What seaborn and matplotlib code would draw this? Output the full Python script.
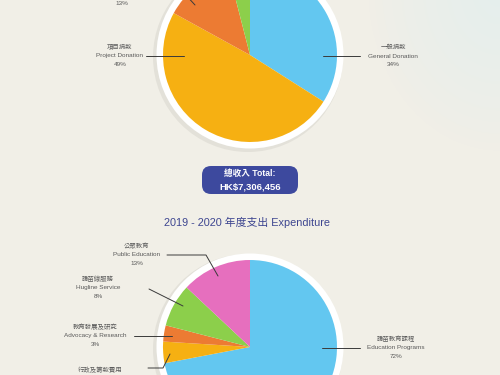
import numpy as np
import matplotlib
matplotlib.use("Agg")
import matplotlib.pyplot as plt
from matplotlib.patches import Circle, FancyBboxPatch
import seaborn as sns

# ---------------- data ----------------
income_labels_zh = ["一般捐款", "項目捐款", "籌款活動", "其他收入"]
income_labels_en = ["General Donation", "Project Donation", "Fundraising Events", "Others"]
income_values = [34, 49, 13, 4]

expense_labels_zh = ["護苗教育課程", "行政及籌款費用", "教育發展及研究", "護苗線服務", "公眾教育"]
expense_labels_en = ["Education Programs", "Administration & Fundraising", "Advocacy & Research",
                     "Hugline Service", "Public Education"]
expense_values = [72, 4, 3, 8, 13]

total_text = ["總收入 Total:", "HK$7,306,456"]
title_text = "2019 - 2020 年度支出 Expenditure"

# ---------------- style ----------------
sns.set_style("white")
plt.rcParams['font.family'] = ['Liberation Sans', 'Noto Sans CJK TC', 'DejaVu Sans']

pal = sns.color_palette(["#63c7f0", "#f6b012", "#ec7b33", "#8ccf4b", "#e66fbe"])
blue, yellow, orange, green, pink = pal

W, H = 500, 375
fig = plt.figure(figsize=(5, 3.75), dpi=100)
ax = fig.add_axes([0, 0, 1, 1])
fig.patch.set_facecolor("#f1efe7")
ax.set_facecolor("#f1efe7")

def Y(y):
    return H - y

# soft watercolor wash top right
gx, gy = np.meshgrid(np.linspace(0, 1, 200), np.linspace(0, 1, 150))
d = np.sqrt(((gx - 1.0) / 0.6) ** 2 + ((gy - 1.0) / 0.95) ** 2)
alpha = np.clip(1.0 - d, 0, 1) ** 0.8 * 0.45
wash = np.zeros((150, 200, 4))
wash[..., 0] = 0.84
wash[..., 1] = 0.93
wash[..., 2] = 0.96
wash[..., 3] = alpha
ax.imshow(wash, extent=(280, 500, Y(160), Y(-10)), origin="lower", zorder=0, aspect="auto")

line_kw = dict(color="#3a3a3a", lw=0.7, zorder=5)
txt_kw = dict(ha="center", va="center", color="#5a5a5a", fontsize=4.6, zorder=6)


def ring(cx, cy, r):
    ax.add_patch(Circle((cx - 2, Y(cy) - 2), r + 8, color="#c4c1b9", alpha=0.3, lw=0, zorder=1))
    ax.add_patch(Circle((cx, Y(cy)), r + 6.5, color="white", lw=0, zorder=2))


def label(x, y, zh, en, pct):
    ax.text(x, Y(y - 9), zh, **txt_kw)
    ax.text(x, Y(y), en, **txt_kw)
    ax.text(x, Y(y + 8.5), pct, **txt_kw)


# ---------------- income pie ----------------
cx1, cy1, r = 250, 55, 87
ring(cx1, cy1, r)
ax.pie(income_values, colors=[blue, yellow, orange, green], startangle=90, counterclock=False,
       center=(cx1, Y(cy1)), radius=r, frame=True,
       wedgeprops=dict(linewidth=0, zorder=3))

label(393, 56, income_labels_zh[0], income_labels_en[0], f"{income_values[0]}%")
ax.plot([323, 360], [Y(56), Y(56)], **line_kw)
label(120, 56, income_labels_zh[1], income_labels_en[1], f"{income_values[1]}%")
ax.plot([146, 184], [Y(56), Y(56)], **line_kw)
# top-left label: only its percentage is inside the frame
ax.text(122, Y(3.5), f"{income_values[2]}%", **txt_kw)
ax.plot([152, 184, 195], [Y(-7), Y(-7), Y(5)], **line_kw)

# ---------------- total box ----------------
ax.add_patch(FancyBboxPatch((202, Y(194)), 96, 28, boxstyle="round,pad=0,rounding_size=9",
                            facecolor="#3d499e", edgecolor="none", zorder=4))
ax.text(250, Y(173.5), total_text[0], ha="center", va="center", color="white",
        fontsize=6.2, fontweight="bold", zorder=6)
ax.text(250, Y(187), total_text[1], ha="center", va="center", color="white",
        fontsize=6.8, fontweight="bold", zorder=6)

# ---------------- title ----------------
ax.text(247, Y(222), title_text, ha="center", va="center", color="#3d4590", fontsize=7.8, zorder=6)

# ---------------- expenditure pie ----------------
cx2, cy2 = 250, 347
ring(cx2, cy2, r)
ax.pie(expense_values, colors=[blue, yellow, orange, green, pink], startangle=90, counterclock=False,
       center=(cx2, Y(cy2)), radius=r, frame=True,
       wedgeprops=dict(linewidth=0, zorder=3))

label(396, 348, expense_labels_zh[0], expense_labels_en[0], f"{expense_values[0]}%")
ax.plot([322, 360], [Y(348), Y(348)], **line_kw)

label(137, 255, expense_labels_zh[4], expense_labels_en[4], f"{expense_values[4]}%")
ax.plot([167, 206, 218], [Y(255), Y(255), Y(276)], **line_kw)

label(98, 288, expense_labels_zh[3], expense_labels_en[3], f"{expense_values[3]}%")
ax.plot([149, 183], [Y(289), Y(306)], **line_kw)

label(95, 336, expense_labels_zh[2], expense_labels_en[2], f"{expense_values[2]}%")
ax.plot([134, 172], [Y(336), Y(336)], **line_kw)

ax.text(100, Y(369.5), expense_labels_zh[1], **txt_kw)
ax.plot([148, 163, 170], [Y(368), Y(368), Y(354)], **line_kw)

ax.set_xlim(0, W)
ax.set_ylim(0, H)
ax.set_aspect("auto")
ax.axis("off")

fig.savefig("out.png", dpi=100, facecolor=fig.get_facecolor())
